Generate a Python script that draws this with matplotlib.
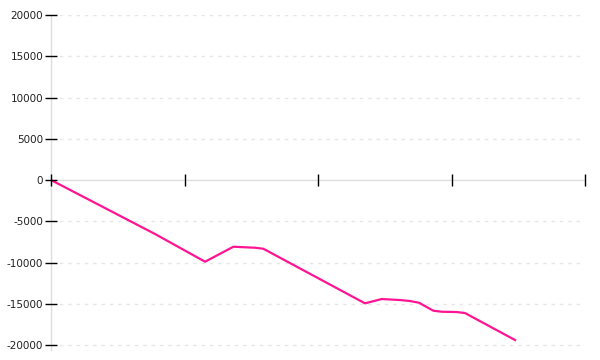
import matplotlib.pyplot as plt
import numpy as np

# x positions (ticks every 10 units) and cumulative values
x_vals = [0, 7.8, 11.54, 13.66, 15.28, 15.9, 23.52, 24.77, 26.14, 26.89,
          27.57, 28.64, 29.27, 30.39, 31.01, 34.76]
y_vals = [0, -6550, -9900, -8085, -8206, -8327, -14945, -14424, -14545,
          -14667, -14873, -15842, -15963, -16000, -16121, -19394]
x_ticks = [0, 10, 20, 30, 40]
y_ticks = [-20000, -15000, -10000, -5000, 0, 5000, 10000, 15000, 20000]

fig = plt.figure(figsize=(6, 3.6), dpi=100)
ax = fig.add_axes([0.085, 0.0278, 0.89, 0.9305])

ax.plot(x_vals, y_vals, color='#ff1493', lw=1.6, solid_joinstyle='round',
        zorder=1.5)

ax.set_xlim(0, 40)
ax.set_ylim(-20600, 20000)
ax.set_xticks(x_ticks)
ax.set_xticklabels([])
ax.set_yticks(y_ticks)
ax.set_yticklabels([str(v) for v in y_ticks])

for v in y_ticks:
    if v != 0:
        ax.axhline(v, color='#e6e6e6', lw=1, ls=(0, (2.5, 3.5)), zorder=0)

for s in ['top', 'right']:
    ax.spines[s].set_visible(False)
ax.spines['bottom'].set_position(('data', 0))
ax.spines['bottom'].set_color('#dddddd')
ax.spines['left'].set_color('#dddddd')
ax.spines['bottom'].set_linewidth(1)
ax.spines['left'].set_linewidth(1)
ax.spines['bottom'].set_zorder(1)
ax.spines['left'].set_zorder(1)

ax.tick_params(axis='x', direction='inout', length=9, width=1, color='black')
ax.tick_params(axis='y', direction='inout', length=9, width=1, color='black',
               labelsize=7.5, labelcolor='#222222', pad=1)

plt.savefig('out.png', dpi=100)
